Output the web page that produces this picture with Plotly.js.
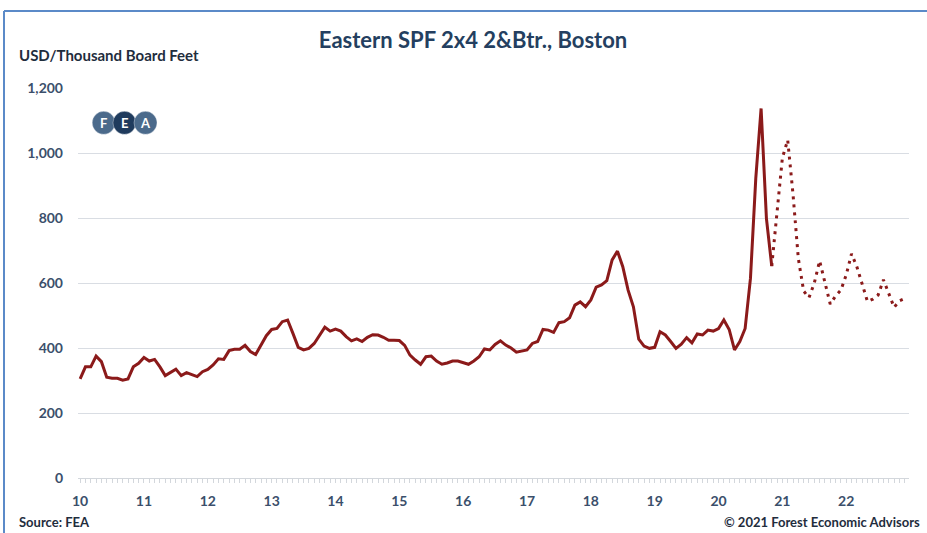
<!DOCTYPE html>
<html>
<head>
<meta charset="utf-8">
<script src="https://cdn.plot.ly/plotly-3.0.1.min.js"></script>
<style>
  html, body { margin: 0; padding: 0; background: #ffffff; }
  #chart { width: 927px; height: 533px; }
</style>
</head>
<body>
<div id="chart"></div>
<script>
// ---- Data (monthly, USD / thousand board feet) ----
const yearLabels = ['10','11','12','13','14','15','16','17','18','19','20','21','22'];

// Actual prices, Jan 2010 - Nov 2020
const actual2010 = [305, 342, 342, 375, 358, 310, 307, 307, 301, 305, 342, 353];
const actual2011 = [371, 360, 365, 342, 315, 324, 335, 315, 324, 318, 312, 327];
const actual2012 = [334, 348, 367, 365, 392, 396, 396, 408, 389, 380, 409, 438];
const actual2013 = [457, 460, 481, 486, 445, 402, 394, 399, 414, 440, 464, 452];
const actual2014 = [458, 452, 435, 422, 428, 420, 433, 441, 440, 433, 424, 424];
const actual2015 = [423, 408, 378, 363, 350, 373, 375, 360, 350, 354, 360, 360];
const actual2016 = [355, 350, 360, 373, 397, 394, 411, 422, 409, 400, 387, 390];
const actual2017 = [394, 414, 420, 457, 455, 448, 478, 481, 493, 532, 542, 527];
const actual2018 = [548, 587, 594, 607, 671, 698, 650, 578, 527, 427, 406, 399];
const actual2019 = [402, 450, 440, 420, 399, 412, 432, 416, 443, 440, 455, 452];
const actual2020 = [460, 486, 457, 394, 420, 460, 614, 922, 1137, 799, 652];

// Forecast, Nov 2020 - Dec 2022
const forecast = [652, 820, 985, 1040, 873, 675, 575, 555, 600, 668, 600, 535, 560, 578,
                  625, 690, 650, 597, 543, 550, 563, 610, 570, 525, 545, 552];

const actual = [].concat(actual2010, actual2011, actual2012, actual2013, actual2014,
  actual2015, actual2016, actual2017, actual2018, actual2019, actual2020);

const xActual = actual.map((v, i) => i);
const xForecast = forecast.map((v, i) => actual.length - 1 + i);
const tickVals = yearLabels.map((v, i) => i * 12);

// ---- Layout helpers (pixel -> paper) ----
const W = 927, H = 533;
const M = { l: 78, r: 18, t: 88, b: 55 };
const PW = W - M.l - M.r, PH = H - M.t - M.b;
const px = x => (x - M.l) / PW;
const py = y => (H - M.b - y) / PH;

const lineColor = '#8b1a1a';
const tickColor = '#3b4f6b';
const font = 'Lato, "Liberation Sans", Arial, sans-serif';

const traces = [
  { x: xActual, y: actual, type: 'scatter', mode: 'lines',
    line: { color: lineColor, width: 3 }, hoverinfo: 'skip', showlegend: false },
  { x: xForecast, y: forecast, type: 'scatter', mode: 'lines',
    line: { color: lineColor, width: 3, dash: '3px,5px' }, hoverinfo: 'skip', showlegend: false }
];

function circ(cx, cy, r, color) {
  return { type: 'circle', xref: 'paper', yref: 'paper',
    x0: px(cx - r), x1: px(cx + r), y0: py(cy + r), y1: py(cy - r),
    fillcolor: color, line: { color: 'rgba(255,255,255,0.35)', width: 1 }, layer: 'above' };
}

const layout = {
  width: W, height: H,
  margin: M,
  paper_bgcolor: '#ffffff', plot_bgcolor: '#ffffff',
  font: { family: font, color: tickColor },
  title: { text: 'Eastern SPF 2x4 2&Btr., Boston', xref: 'container', yref: 'container',
    x: 473 / W, y: 1 - 40 / H, xanchor: 'center', yanchor: 'middle',
    font: { family: font, size: 22, color: '#243f60', weight: 'bold' } },
  xaxis: {
    range: [-0.4, 155.8], tickmode: 'array', tickvals: tickVals, ticktext: yearLabels,
    showgrid: false, zeroline: false, showline: true, linecolor: '#d3d7dc', linewidth: 1,
    ticks: '', ticklabelstandoff: 10,
    tickfont: { family: font, size: 14, color: tickColor, weight: 'bold' },
    minor: { tick0: 0, dtick: 1, ticks: 'outside', ticklen: 4, tickcolor: '#d3d7dc', showgrid: false },
    fixedrange: true
  },
  yaxis: {
    range: [0, 1200], dtick: 200, tickformat: ',', showgrid: true, gridcolor: '#d9dde3', gridwidth: 1,
    zeroline: false, showline: false, ticks: '', ticklabelstandoff: 14,
    tickfont: { family: font, size: 14, color: tickColor, weight: 'bold' },
    fixedrange: true
  },
  shapes: [
    { type: 'line', xref: 'paper', yref: 'paper', x0: px(4), x1: px(W + 2), y0: py(11), y1: py(11),
      line: { color: '#5b8ac8', width: 2 } },
    { type: 'line', xref: 'paper', yref: 'paper', x0: px(4), x1: px(4), y0: py(11), y1: py(H + 2),
      line: { color: '#5b8ac8', width: 2 } },
    circ(103.7, 122.8, 11.5, '#4b6a8b'),
    circ(124.5, 122.8, 11.5, '#1f3b5d'),
    circ(145.5, 122.8, 11.5, '#4b6a8b')
  ],
  annotations: [
    { text: 'USD/Thousand Board Feet', xref: 'paper', yref: 'paper', x: px(17), y: py(55),
      xanchor: 'left', yanchor: 'middle', showarrow: false,
      font: { family: font, size: 15, color: '#1f2d3d', weight: 'bold' } },
    { text: 'Source: FEA', xref: 'paper', yref: 'paper', x: px(17), y: py(522),
      xanchor: 'left', yanchor: 'middle', showarrow: false,
      font: { family: font, size: 13, color: '#1f2d3d', weight: 'bold' } },
    { text: '© 2021 Forest Economic Advisors', xref: 'paper', yref: 'paper', x: px(922), y: py(522),
      xanchor: 'right', yanchor: 'middle', showarrow: false,
      font: { family: font, size: 13, color: '#1f2d3d', weight: 'bold' } },
    { text: 'F', xref: 'paper', yref: 'paper', x: px(103.7), y: py(122.8), showarrow: false,
      xanchor: 'center', yanchor: 'middle', font: { family: font, size: 13, color: '#ffffff', weight: 'bold' } },
    { text: 'E', xref: 'paper', yref: 'paper', x: px(124.5), y: py(122.8), showarrow: false,
      xanchor: 'center', yanchor: 'middle', font: { family: font, size: 13, color: '#ffffff', weight: 'bold' } },
    { text: 'A', xref: 'paper', yref: 'paper', x: px(145.5), y: py(122.8), showarrow: false,
      xanchor: 'center', yanchor: 'middle', font: { family: font, size: 13, color: '#ffffff', weight: 'bold' } }
  ]
};

Plotly.newPlot('chart', traces, layout, { displayModeBar: false, staticPlot: true });
</script>
</body>
</html>
